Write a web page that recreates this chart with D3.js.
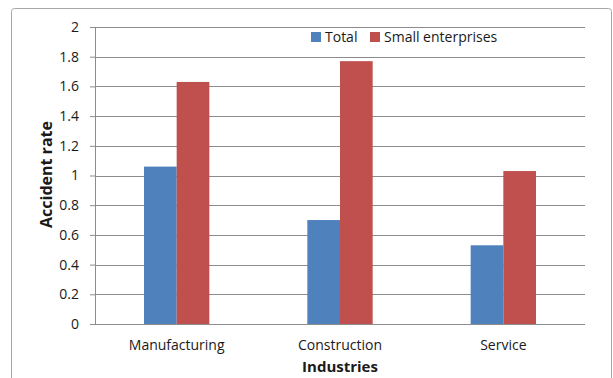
<!DOCTYPE html>
<html>
<head>
<meta charset="utf-8">
<script src="https://cdn.jsdelivr.net/npm/d3@7"></script>
<style>
  body { margin: 0; background: #fff; }
  text { font-family: "Open Sans", "Liberation Sans", sans-serif; fill: #1a1a1a; }
</style>
</head>
<body>
<svg width="613" height="378"></svg>
<script>
const industries = ['Manufacturing', 'Construction', 'Service'];
const seriesNames = ['Total', 'Small enterprises'];
const totalRates = [1.06, 0.70, 0.53];
const smallRates = [1.63, 1.77, 1.03];
const yTicks = [0, 0.2, 0.4, 0.6, 0.8, 1, 1.2, 1.4, 1.6, 1.8, 2];
const colors = ['#4f81bd', '#c0504d'];

const svg = d3.select('svg');
const width = +svg.attr('width');
const height = +svg.attr('height');

const margin = { top: 27, right: 28, bottom: 54, left: 95 };
const innerWidth = width - margin.left - margin.right;
const innerHeight = height - margin.top - margin.bottom;

// outer chart border (bottom edge is outside the picture)
svg.append('path')
    .attr('d', `M11.5,${height} V11.5 Q11.5,8.5 14.5,8.5 H608.5 Q611.5,8.5 611.5,11.5 V${height}`)
    .attr('fill', 'none')
    .attr('stroke', '#a6a6a6');

const g = svg.append('g')
    .attr('transform', `translate(${margin.left}, ${margin.top})`);

const xScale = d3.scaleBand()
    .domain(industries)
    .range([0, innerWidth]);

const xInner = d3.scaleBand()
    .domain(seriesNames)
    .range([0, xScale.bandwidth() * 0.4]);

const yScale = d3.scaleLinear()
    .domain([0, 2])
    .range([innerHeight, 0]);

// gridlines
g.append('g')
    .selectAll('line').data(yTicks)
    .enter().append('line')
    .attr('x1', 0).attr('x2', innerWidth)
    .attr('y1', d => Math.round(yScale(d)) + 0.5)
    .attr('y2', d => Math.round(yScale(d)) + 0.5)
    .attr('stroke', '#8c8c8c');

// y axis
const yAxis = d3.axisLeft(yScale)
    .tickValues(yTicks)
    .tickFormat(d3.format('~g'))
    .tickSize(5)
    .tickPadding(11);

const yAxisG = g.append('g').call(yAxis);
yAxisG.selectAll('line').attr('stroke', '#8c8c8c');
yAxisG.select('.domain').attr('stroke', '#8c8c8c');
yAxisG.selectAll('text')
    .style('font-size', '14px')
    .attr('fill', '#1a1a1a');

// bars
const rows = industries.map((name, i) => ({
    name,
    values: [
        { key: seriesNames[0], value: totalRates[i] },
        { key: seriesNames[1], value: smallRates[i] }
    ]
}));

const groups = g.selectAll('.group').data(rows)
    .enter().append('g')
    .attr('transform', d => `translate(${xScale(d.name) + xScale.bandwidth() * 0.3}, 0)`);

groups.selectAll('rect').data(d => d.values)
    .enter().append('rect')
    .attr('x', d => xInner(d.key))
    .attr('y', d => yScale(d.value))
    .attr('width', xInner.bandwidth())
    .attr('height', d => innerHeight - yScale(d.value))
    .attr('fill', (d, i) => colors[i]);

// x axis
const xAxis = d3.axisBottom(xScale)
    .tickSize(0)
    .tickPadding(16);

const xAxisG = g.append('g')
    .attr('transform', `translate(0, ${innerHeight})`)
    .call(xAxis);
xAxisG.select('.domain').remove();
xAxisG.selectAll('text')
    .style('font-size', '14px')
    .attr('fill', '#1a1a1a');

// axis titles
g.append('text')
    .attr('x', innerWidth / 2)
    .attr('y', innerHeight + 48)
    .attr('text-anchor', 'middle')
    .style('font-size', '15px')
    .style('font-weight', 'bold')
    .text('Industries');

g.append('text')
    .attr('transform', 'rotate(-90)')
    .attr('x', -innerHeight / 2 + 1)
    .attr('y', -43)
    .attr('text-anchor', 'middle')
    .style('font-size', '16px')
    .style('font-weight', 'bold')
    .text('Accident rate');

// legend
const legendX = [311, 370];
const legend = svg.append('g');
seriesNames.forEach((name, i) => {
    legend.append('rect')
        .attr('x', legendX[i]).attr('y', 32)
        .attr('width', 10).attr('height', 10)
        .attr('fill', colors[i]);
    legend.append('text')
        .attr('x', legendX[i] + 14).attr('y', 42)
        .style('font-size', '14px')
        .text(name);
});
</script>
</body>
</html>
